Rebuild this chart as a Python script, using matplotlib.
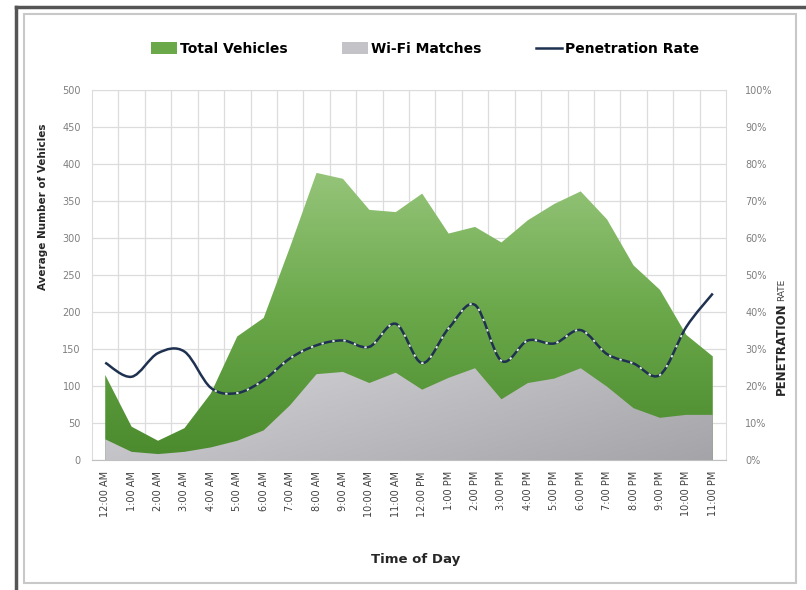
import matplotlib
matplotlib.use("Agg")
import matplotlib.pyplot as plt
import numpy as np
from matplotlib.path import Path
from matplotlib.patches import PathPatch, Patch, Rectangle
from matplotlib.lines import Line2D
from matplotlib.colors import LinearSegmentedColormap
from matplotlib.ticker import PercentFormatter, MultipleLocator

# hourly averages
hours = ["12:00 AM", "1:00 AM", "2:00 AM", "3:00 AM", "4:00 AM", "5:00 AM",
         "6:00 AM", "7:00 AM", "8:00 AM", "9:00 AM", "10:00 AM", "11:00 AM",
         "12:00 PM", "1:00 PM", "2:00 PM", "3:00 PM", "4:00 PM", "5:00 PM",
         "6:00 PM", "7:00 PM", "8:00 PM", "9:00 PM", "10:00 PM", "11:00 PM"]
total_vehicles = [115, 45, 26, 43, 90, 167, 192, 288, 388, 380, 338, 335,
                  360, 306, 315, 294, 324, 346, 363, 325, 263, 230, 169, 140]
wifi_matches = [28, 11, 8, 11, 17, 26, 40, 74, 116, 119, 104, 118,
                95, 111, 124, 82, 104, 110, 124, 99, 70, 57, 61, 61]
penetration_rate = [26.3, 22.5, 28.9, 29.3, 19.5, 18.1, 21.6, 27.5, 31.0, 32.3, 30.6, 36.8,
                    26.2, 35.6, 41.9, 26.8, 32.3, 31.5, 35.1, 28.6, 26.1, 23.0, 36.0, 45.0]

W, H = 806, 590
fig = plt.figure(figsize=(W / 100, H / 100), dpi=100)
ax = fig.add_axes([92 / W, 1 - 460 / H, (726 - 92) / W, (460 - 90) / H])
x = np.arange(len(hours))

# total vehicles: green gradient clipped to the area
green_cmap = LinearSegmentedColormap.from_list("green", ["#4a8a2c", "#6aa84a", "#98c67c"])
poly_total = ax.fill_between(x, 0, total_vehicles, color="none", lw=0)
img = ax.imshow(np.linspace(0, 1, 256).reshape(-1, 1), extent=(-0.5, 23.5, 0, 400),
                origin="lower", cmap=green_cmap, aspect="auto", zorder=2)
img.set_clip_path(poly_total.get_paths()[0], ax.transData)

# wi-fi matches: grey gradient
grey_cmap = LinearSegmentedColormap.from_list("grey", ["#a4a4a8", "#d6d6da"])
gx, gy = np.meshgrid(np.linspace(0, 1, 128), np.linspace(0, 1, 128))
poly_wifi = ax.fill_between(x, 0, wifi_matches, color="none", lw=0)
img2 = ax.imshow(0.65 * (1 - gx) + 0.35 * gy, extent=(-0.5, 23.5, 0, 130),
                 origin="lower", cmap=grey_cmap, aspect="auto", zorder=3)
img2.set_clip_path(poly_wifi.get_paths()[0], ax.transData)

ax.set_xlim(-0.5, 23.5)
ax.set_ylim(0, 500)
ax.yaxis.set_major_locator(MultipleLocator(50))
ax.set_xticks(x)
ax.set_xticklabels(hours, rotation=90, fontsize=7, color="#404040")
ax.set_xticks(x[:-1] + 0.5, minor=True)
ax.tick_params(axis="x", which="both", length=0, pad=8)
ax.tick_params(axis="y", length=0, labelsize=7, labelcolor="#7f7f7f", pad=8)
ax.set_axisbelow(True)
ax.grid(axis="y", color="#dcdcdc", lw=0.9)
ax.grid(axis="x", which="minor", color="#dcdcdc", lw=0.9)
for side in ["left", "right", "top"]:
    ax.spines[side].set_color("#dcdcdc")
ax.spines["bottom"].set_color("#bfbfbf")

# penetration rate on the right axis, drawn as a smoothed curve
ax2 = ax.twinx()
ax2.set_ylim(0, 100)
ax2.yaxis.set_major_locator(MultipleLocator(10))
ax2.yaxis.set_major_formatter(PercentFormatter(decimals=0))
ax2.tick_params(axis="y", length=0, labelsize=7, labelcolor="#7f7f7f", pad=14)
for s in ax2.spines.values():
    s.set_visible(False)

pts = list(zip(x, penetration_rate))
verts = [pts[0]]
codes = [Path.MOVETO]
for i in range(len(pts) - 1):
    p0 = np.array(pts[max(i - 1, 0)])
    p1 = np.array(pts[i])
    p2 = np.array(pts[i + 1])
    p3 = np.array(pts[min(i + 2, len(pts) - 1)])
    verts += [tuple(p1 + (p2 - p0) / 6), tuple(p2 - (p3 - p1) / 6), tuple(p2)]
    codes += [Path.CURVE4] * 3
rate_path = Path(verts, codes)
ax2.add_patch(PathPatch(rate_path, fill=False, ec="#1f3150", lw=1.8, zorder=4))
# light breaks where the curve crosses the green area
breaks = ax2.add_patch(PathPatch(rate_path, fill=False, ec="#e4eedc", lw=1.4,
                                 ls=(0, (1.2, 4.5)), zorder=5))
breaks.set_clip_path(poly_total.get_paths()[0], ax.transData)

fig.text(43 / W, 1 - 207 / H, "Average Number of Vehicles", rotation=90,
         ha="center", va="center", fontsize=7.5, fontweight="bold", color="#262626")
fig.text(416 / W, 1 - 560 / H, "Time of Day", ha="center", va="center",
         fontsize=9.5, fontweight="bold", color="#262626")
fig.text(781 / W, 1 - 395 / H, "PENETRATION", rotation=90, ha="center", va="bottom",
         fontsize=8.5, fontweight="bold", color="#262626")
fig.text(782 / W, 1 - 301 / H, "RATE", rotation=90, ha="center", va="bottom",
         fontsize=6.5, color="#404040")

handles = [Patch(facecolor="#6aa84a", edgecolor="none"),
           Patch(facecolor="#c4c4c8", edgecolor="none"),
           Line2D([], [], color="#1f3150", lw=1.8)]
fig.legend(handles, ["Total Vehicles", "Wi-Fi Matches", "Penetration Rate"],
           loc="center", bbox_to_anchor=(425 / W, 1 - 49 / H), ncol=3, frameon=False,
           prop={"weight": "bold", "size": 10}, handlelength=1.9, handleheight=0.9,
           handletextpad=0.2, columnspacing=3.9)

# frame of the original screenshot
fig.add_artist(Line2D([16 / W, 1], [1 - 7 / H, 1 - 7 / H], color="#555555", lw=2.5))
fig.add_artist(Line2D([16 / W, 16 / W], [0, 1 - 7 / H], color="#555555", lw=2.5))
fig.add_artist(Rectangle((24 / W, 1 - 583 / H), (796 - 24) / W, (583 - 14) / H,
                         fill=False, ec="#c8c8c8", lw=1.5))

fig.savefig("out.png", dpi=100)
